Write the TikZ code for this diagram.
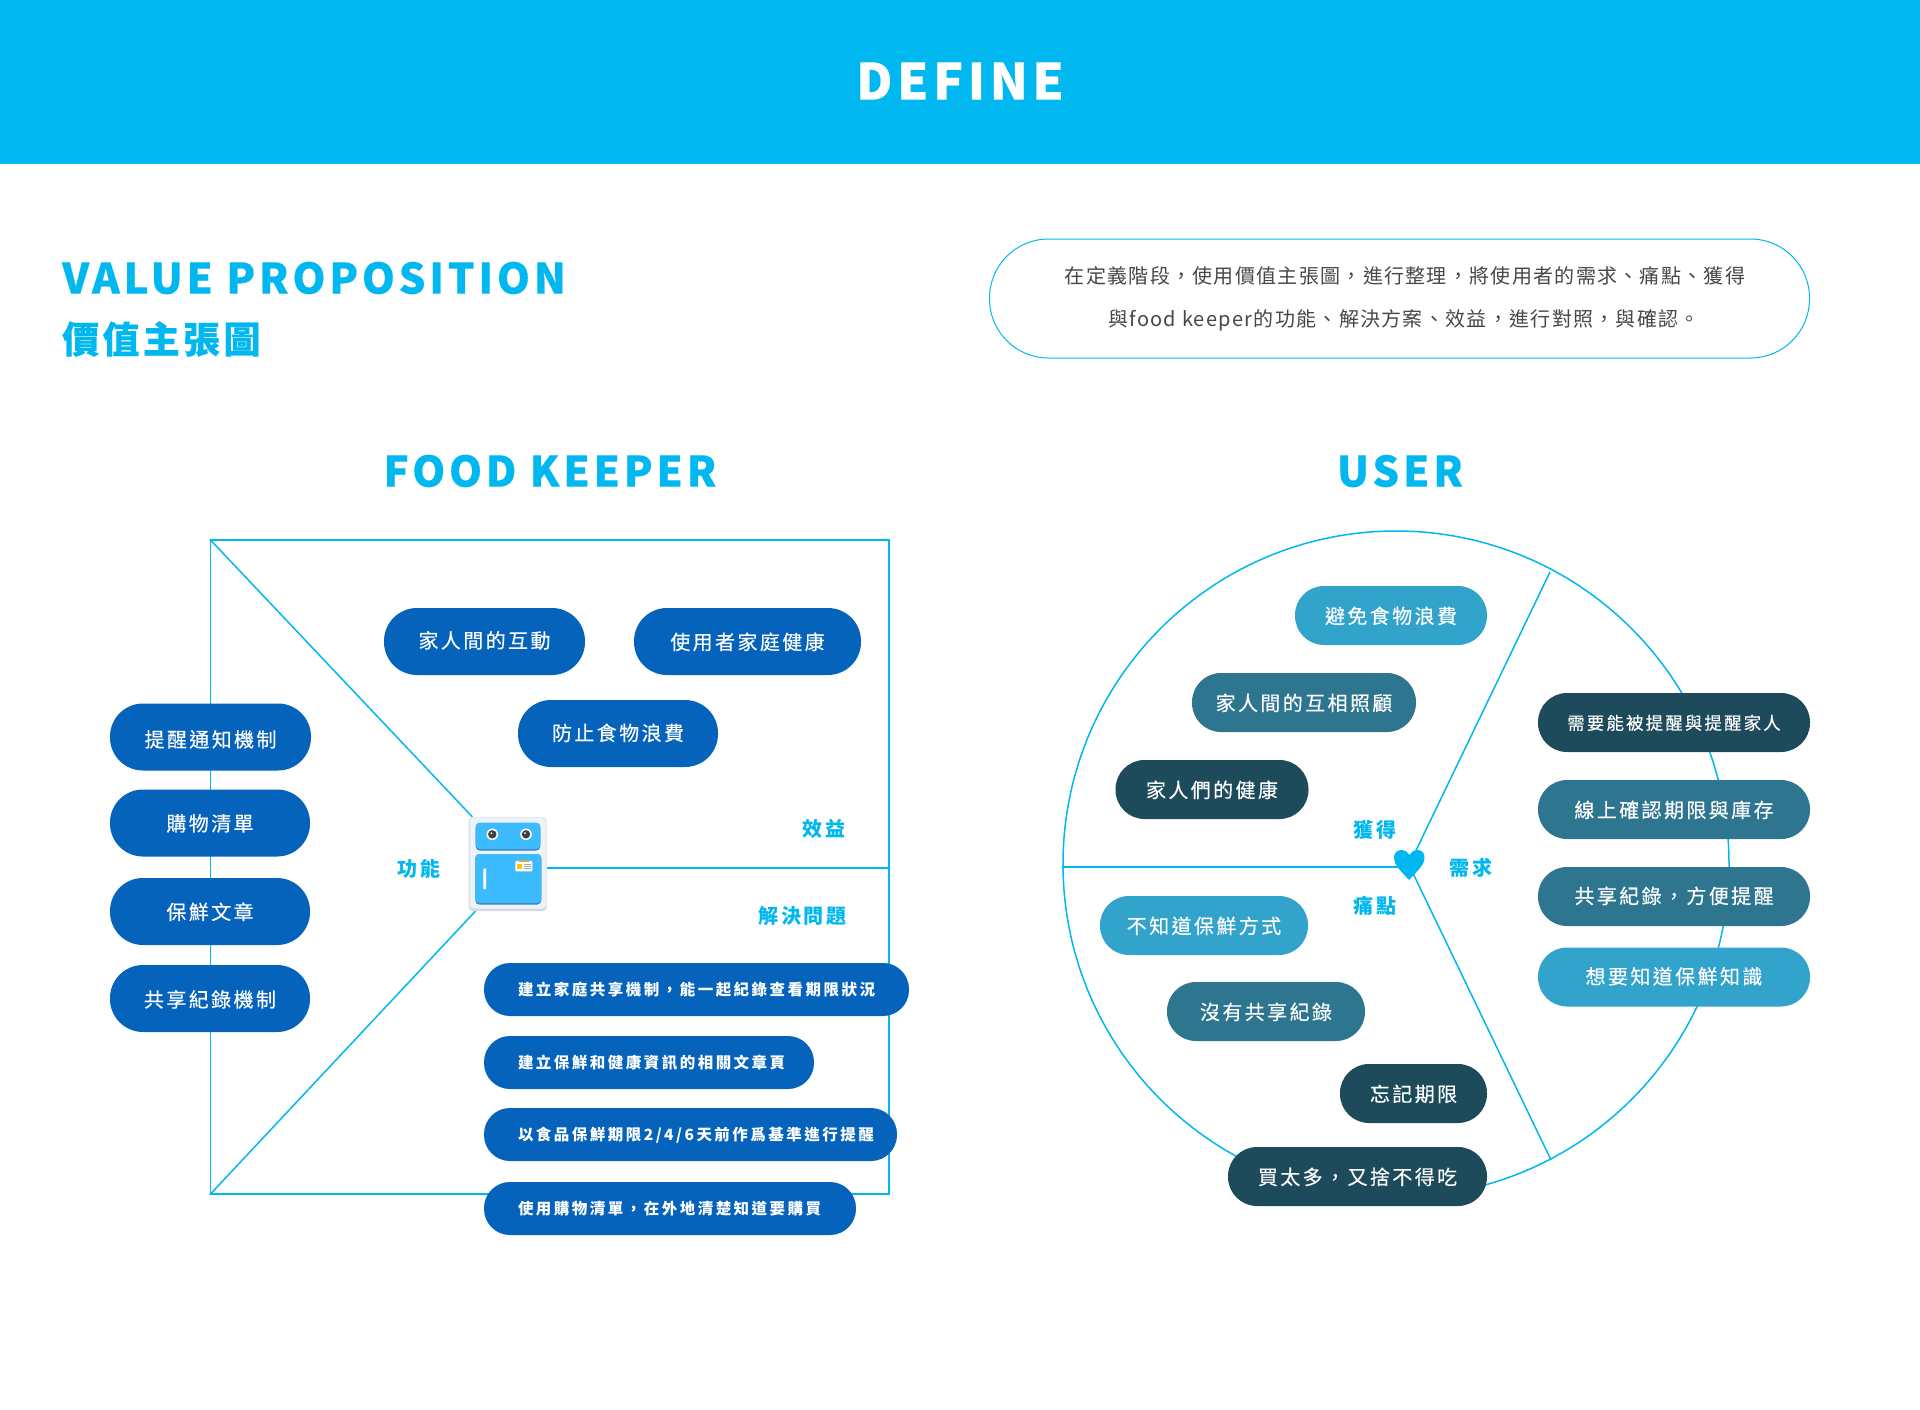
\documentclass[tikz,border=0pt]{standalone}
\usepackage{fontspec}
\setmainfont{Noto Sans CJK TC}
\newfontfamily\headfont{Noto Sans CJK TC Black}[LetterSpace=9,FakeBold=0.4]
\newfontfamily\labelfont{Noto Sans CJK TC}[LetterSpace=12]
\newfontfamily\solvefont{Noto Sans CJK TC}[LetterSpace=16]
\newfontfamily\pillfont{Noto Sans CJK TC}[LetterSpace=12,FakeBold=0.3]
\newfontfamily\bodyfont{Noto Sans CJK TC}[LetterSpace=6.5]
\usetikzlibrary{calc}
\definecolor{skyline}{HTML}{00B7EF}
\definecolor{deepblue}{HTML}{0563BB}
\definecolor{lightteal}{HTML}{32A3CB}
\definecolor{midteal}{HTML}{2E7590}
\definecolor{darkteal}{HTML}{1D4B5B}
\definecolor{fridgeblue}{HTML}{3DBBFF}
\definecolor{fridgeedge}{HTML}{2F85BF}
\definecolor{fridgebody}{HTML}{EEF3F8}
\definecolor{fridgerim}{HTML}{CFDAE6}

\begin{document}
\begin{tikzpicture}[
    x=1pt, y=-1pt,
    every node/.style={inner sep=0pt},
    headline/.style={text=skyline, font=\headfont},
    partlabel/.style={text=skyline, font=\labelfont\bfseries\fontsize{20}{24}\selectfont},
    pill/.style={rectangle, fill=deepblue, text=white, align=center, text height=17pt, text depth=1pt, minimum width=#1},
    bigpill/.style={pill=#1, minimum height=67pt, rounded corners=33pt, font=\pillfont\fontsize{20}{24}\selectfont},
    smallpill/.style={pill=0pt, minimum height=53pt, rounded corners=26pt, align=left, inner xsep=34pt, text width=#1, text height=12pt, text depth=1pt, font=\solvefont\bfseries\fontsize{15.5}{18}\selectfont},
    userpill/.style={pill=#1, minimum height=59pt, rounded corners=29pt, font=\pillfont\fontsize{20}{24}\selectfont},
    frameline/.style={skyline, line width=1.5pt}
]
\useasboundingbox (0,0) rectangle (1920,1409);

% ============ HEADER ============
\fill[skyline] (0,0) rectangle (1920,164);
\node[text=white, font=\headfont\fontsize{50}{60}\selectfont] (define) at (960,81) {DEFINE};

\node[headline, font=\headfont\fontsize{42}{50}\selectfont, anchor=west] (value) at (62,278) {VALUE PROPOSITION};
\node[headline, font=\headfont\fontsize{37}{44}\selectfont, anchor=west] (valuezh) at (62,339) {價值主張圖};

\node[draw=skyline, line width=1pt, rounded corners=59pt, minimum width=820pt, minimum height=119pt] (intro) at (1399.5,298.5) {};
\node[text=black!72, font=\bodyfont\fontsize{20}{24}\selectfont] (introa) at (1405,276) {在定義階段，使用價值主張圖，進行整理，將使用者的需求、痛點、獲得};
\node[text=black!72, font=\bodyfont\fontsize{20}{24}\selectfont] (introb) at (1404,320) {與food keeper的功能、解決方案、效益，進行對照，與確認。};

\node[headline, font=\headfont\fontsize{42}{50}\selectfont] (keeper) at (550,471) {FOOD KEEPER};
\node[headline, font=\headfont\fontsize{42}{50}\selectfont] (user) at (1400,471) {USER};

% ============ LEFT: FOOD KEEPER ============
\node[draw=skyline, line width=1.5pt, minimum width=678.5pt, minimum height=654pt] (square) at (549.8,867) {};
\node[minimum width=78pt, minimum height=93pt] (fridge) at (507.5,863.5) {};

\draw[frameline] (square.north west) -- ([xshift=4pt]fridge.north west);
\draw[frameline] (square.south west) -- ([xshift=8pt]fridge.south west);
\draw[frameline] (fridge.east |- 0,868) -- (square.east |- 0,868);

% fridge
\fill[rounded corners=4pt, fill=fridgerim] (468.7,817.3) rectangle (546.7,911);
\fill[rounded corners=4pt, fill=fridgebody] (469.5,817.6) rectangle (546,908.5);
\fill[rounded corners=4pt, fill=fridgeedge] (475.7,823) rectangle (540.3,850.5);
\fill[rounded corners=4pt, fill=fridgeblue] (475.7,822.7) rectangle (540.3,849);
\fill[rounded corners=4pt, fill=fridgeedge] (475.3,854) rectangle (541.3,904.5);
\fill[rounded corners=4pt, fill=fridgeblue] (475.3,854) rectangle (541.3,903);
\foreach \eyex in {492.3,526} {
    \fill[white] (\eyex,834.3) circle (5.8pt);
    \fill[black!75] (\eyex,834.3) circle (4.2pt);
    \fill[white] (\eyex-1,833.2) circle (1pt);
}
\fill[white, rounded corners=1pt] (483.3,868.3) rectangle (486,889.3);
\fill[white, rounded corners=1pt] (515.3,861) rectangle (532.3,871.3);
\fill[yellow!60!orange] (517.3,864) rectangle (521.7,868.7);
\fill[yellow!40!orange!60!gray] (519,860) rectangle (529,862);
\draw[black!35, line width=0.5pt] (524,864) -- (531,864) (524,866) -- (531,866) (524,868) -- (531,868);

\node[partlabel] (feature) at (419,869) {功能};
\node[partlabel] (benefit) at (824,829) {效益};
\node[partlabel] (solve) at (802.5,916) {解決問題};

\node[bigpill=201pt, text height=21pt] (remind) at (210.5,737) {提醒通知機制};
\node[bigpill=200pt] (shopping) at (210,823) {購物清單};
\node[bigpill=200pt] (article) at (210,911.5) {保鮮文章};
\node[bigpill=200pt, text height=18pt] (sharing) at (210,998.5) {共享紀錄機制};

\node[bigpill=201pt, text height=14pt] (family) at (484.5,641.5) {家人間的互動};
\node[bigpill=227pt] (health) at (747.5,641.5) {使用者家庭健康};
\node[bigpill=200pt, text height=15pt] (waste) at (618,733.5) {防止食物浪費};

\node[smallpill=357pt] (sola) at (696.5,989.5) {建立家庭共享機制，能一起紀錄查看期限狀況};
\node[smallpill=262pt] (solb) at (649,1062.5) {建立保鮮和健康資訊的相關文章頁};
\node[smallpill=345pt] (solc) at (690.5,1134.5) {以食品保鮮期限2/4/6天前作爲基準進行提醒};
\node[smallpill=304pt] (sold) at (670,1208.5) {使用購物清單，在外地清楚知道要購買};

% ============ RIGHT: USER ============
\node[draw=skyline, line width=1.5pt, circle, minimum size=666pt] (wheel) at (1396,864) {};
\coordinate (heart) at (1409,865);
\coordinate (upper) at (1550,572);
\coordinate (lower) at (1551,1160);

\draw[frameline] (wheel.west |- 0,867) -- (heart |- 0,867);
\draw[frameline] (heart) -- (upper);
\draw[frameline] (heart) -- (lower);
\fill[skyline] (1409,880) .. controls (1400,870) and (1394,865) .. (1394,858)
    .. controls (1394,851) and (1399,850) .. (1402,850)
    .. controls (1405,850) and (1408,852) .. (1409.5,855)
    .. controls (1411,852) and (1414,850) .. (1417,850)
    .. controls (1420,850) and (1424.5,851) .. (1424.5,858)
    .. controls (1424.5,865) and (1418,870) .. (1409,880) -- cycle;

\node[partlabel] (gain) at (1375,830) {獲得};
\node[partlabel] (pain) at (1375,906) {痛點};
\node[partlabel] (need) at (1471,868) {需求};

\node[userpill=192pt, fill=lightteal] (avoid) at (1391,615.5) {避免食物浪費};
\node[userpill=224pt, fill=midteal] (care) at (1304,702.5) {家人間的互相照顧};
\node[userpill=193pt, fill=darkteal] (wellness) at (1212,789.5) {家人們的健康};
\node[userpill=208pt, fill=lightteal] (unknown) at (1204,925.5) {不知道保鮮方式};
\node[userpill=198pt, fill=midteal] (norecord) at (1266,1011.5) {沒有共享紀錄};
\node[userpill=147pt, fill=darkteal] (forget) at (1413.5,1093.5) {忘記期限};
\node[userpill=259pt, fill=darkteal] (toomuch) at (1357.5,1176.5) {買太多，又捨不得吃};

\node[userpill=272pt, fill=darkteal, font=\pillfont\fontsize{17.5}{22}\selectfont, text height=15pt] (alert) at (1674,722.5) {需要能被提醒與提醒家人};
\node[userpill=272pt, fill=midteal] (online) at (1674,809.5) {線上確認期限與庫存};
\node[userpill=272pt, fill=midteal, text height=15pt] (record) at (1674,896.5) {共享紀錄，方便提醒};
\node[userpill=272pt, fill=lightteal, text height=15pt] (knowledge) at (1674,977) {想要知道保鮮知識};

\end{tikzpicture}
\end{document}
